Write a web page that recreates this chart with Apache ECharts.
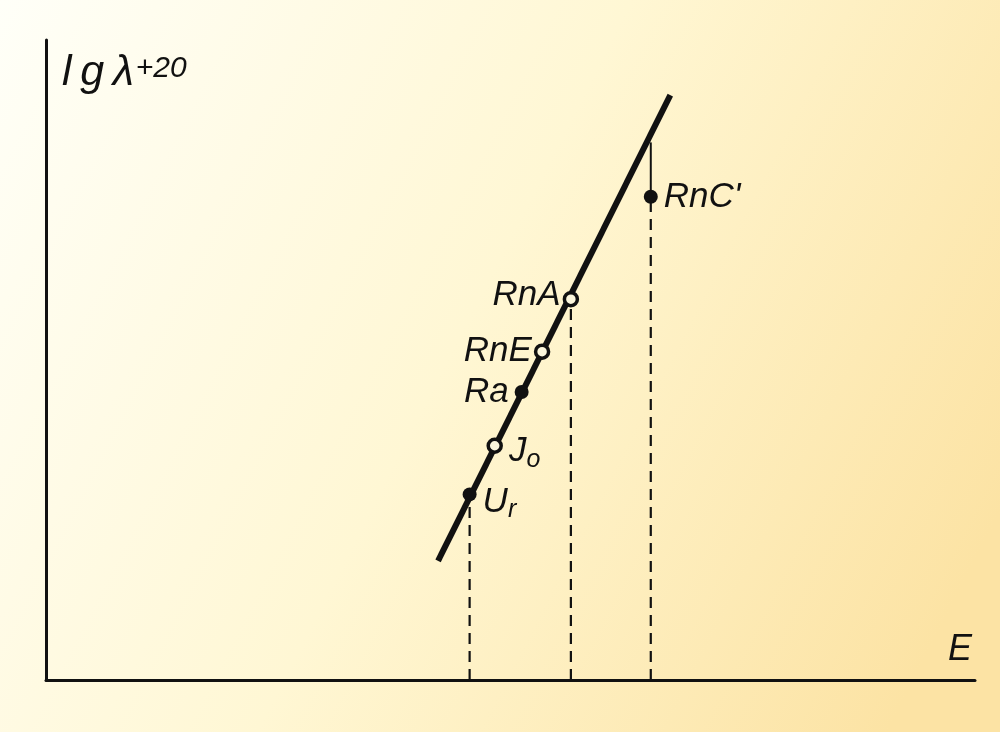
<!DOCTYPE html>
<html>
<head>
<meta charset="utf-8">
<script src="https://cdn.jsdelivr.net/npm/echarts@6/dist/echarts.min.js"></script>
<style>
  html, body { margin: 0; padding: 0; }
  #chart { width: 1000px; height: 732px; }
</style>
</head>
<body>
<div id="chart"></div>
<script>
// nuclides on the plot (E, lg λ + 20), in arbitrary axis units 0..100
const names = ['Ur', 'Jo', 'Ra', 'RnE', 'RnA', "RnC'"]
const energy = [45.6, 48.3, 51.2, 53.4, 56.5, 65.1]
const lgLambda = [29.0, 36.6, 45.0, 51.3, 59.5, 75.5]
const hollow = [false, true, false, true, true, false]

// straight fitted line (two end points)
const fitX = [42.2, 67.2]
const fitY = [18.6, 91.4]

// dashed drops to the E axis
const dropX = [45.6, 56.5, 65.1]
const dropTop = [29.0, 59.5, 75.5]
// thin link from RnC' up to the line
const linkX = [65.1, 65.1]
const linkY = [75.5, 84.0]

const ink = '#111'
const font = 'Liberation Sans'

const chart = echarts.init(document.getElementById('chart'))

const labelPos = {
  'Ur': { position: 'right', distance: 6, offset: [0, 8] },
  'Jo': { position: 'right', distance: 6, offset: [0, 6] },
  'Ra': { position: 'left', distance: 6, offset: [0, 0] },
  'RnE': { position: 'left', distance: 2, offset: [0, 0] },
  'RnA': { position: 'left', distance: 2, offset: [0, -4] },
  "RnC'": { position: 'right', distance: 6, offset: [0, 0] }
}

const labelText = n => {
  if (n === 'Ur') return '{m|U}{s|r}'
  if (n === 'Jo') return '{m|J}{s|o}'
  return '{m|' + n + '}'
}

const points = names.map((n, i) => ({
  value: [energy[i], lgLambda[i]],
  symbolSize: hollow[i] ? 13 : 14,
  itemStyle: hollow[i]
    ? { color: '#fbf6dc', borderColor: ink, borderWidth: 3.5, opacity: 1 }
    : { color: ink, borderWidth: 0, opacity: 1 },
  label: Object.assign({
    show: true,
    formatter: labelText(n),
    rich: {
      m: { fontSize: 35, fontStyle: 'italic', fontFamily: font, color: ink },
      s: { fontSize: 25, fontStyle: 'italic', fontFamily: font, color: ink, padding: [16, 0, 0, 0] }
    }
  }, labelPos[n])
}))

const drops = dropX.map((x, i) => ({
  type: 'line',
  data: [[x, 0], [x, dropTop[i]]],
  symbol: 'none',
  silent: true,
  z: 1,
  lineStyle: { color: ink, width: 2.2, type: [11, 7] }
}))

chart.setOption({
  backgroundColor: {
    type: 'linear', x: 0, y: 0, x2: 1, y2: 0.7,
    colorStops: [
      { offset: 0, color: '#fffff8' },
      { offset: 0.5, color: '#fff7d4' },
      { offset: 1, color: '#fce3a4' }
    ]
  },
  animation: false,
  grid: { left: 46, right: 25, top: 40, bottom: 52 },
  xAxis: {
    type: 'value', min: 0, max: 100,
    name: 'E',
    nameLocation: 'end',
    nameGap: -3,
    nameTextStyle: {
      fontSize: 36, fontStyle: 'italic', fontFamily: font, color: ink,
      align: 'right', verticalAlign: 'bottom', padding: [0, 0, 12, 0]
    },
    axisLine: { lineStyle: { color: ink, width: 3 } },
    axisTick: { show: false },
    axisLabel: { show: false },
    splitLine: { show: false }
  },
  yAxis: {
    type: 'value', min: 0, max: 100,
    name: '{a|l\u2009g\u2009λ}{b|+20}',
    nameLocation: 'end',
    nameGap: -55,
    nameTextStyle: {
      align: 'left', verticalAlign: 'bottom', padding: [0, 0, 0, 16],
      rich: {
        a: { fontSize: 43, fontStyle: 'italic', fontFamily: font, color: ink },
        b: { fontSize: 30, fontStyle: 'italic', fontFamily: font, color: ink, padding: [0, 0, 10, 2] }
      }
    },
    axisLine: { lineStyle: { color: ink, width: 3 } },
    axisTick: { show: false },
    axisLabel: { show: false },
    splitLine: { show: false }
  },
  series: [
    ...drops,
    {
      type: 'line',
      data: [[linkX[0], linkY[0]], [linkX[1], linkY[1]]],
      symbol: 'none',
      silent: true,
      z: 1,
      lineStyle: { color: ink, width: 2 }
    },
    {
      type: 'line',
      data: [[fitX[0], fitY[0]], [fitX[1], fitY[1]]],
      symbol: 'none',
      z: 2,
      lineStyle: { color: ink, width: 6 }
    },
    {
      type: 'scatter',
      data: points,
      z: 3
    }
  ]
})
</script>
</body>
</html>
